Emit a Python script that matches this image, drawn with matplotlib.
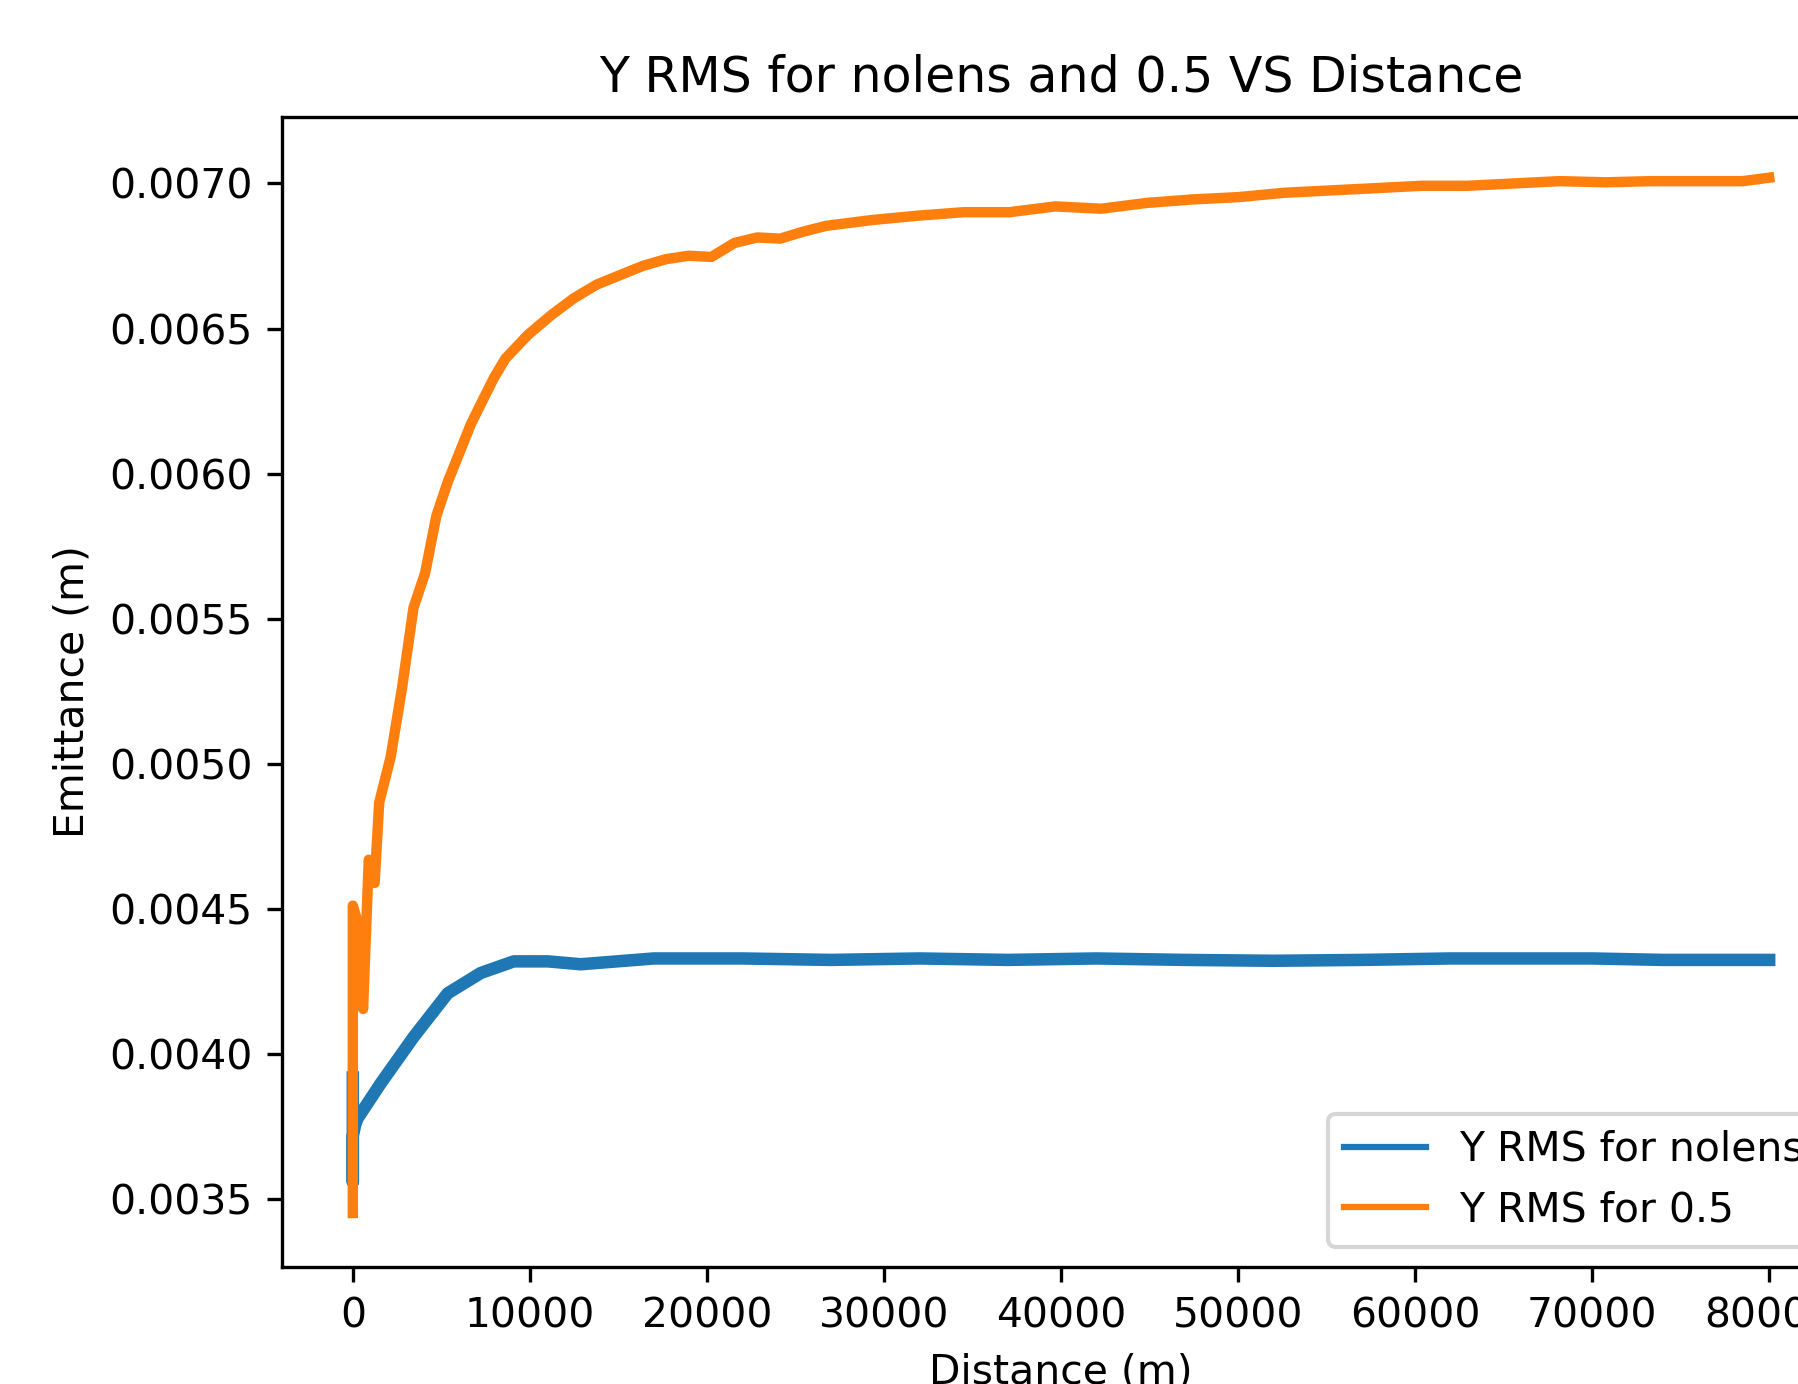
import matplotlib
matplotlib.use("Agg")
import matplotlib.pyplot as plt

# afstand (m) en emittance (m)
dist_nolens = [0, 0, 0, 150, 280, 1580, 3440, 5360, 7230, 9090, 11010, 12870,
               17000, 22000, 27000, 32000, 37000, 42000, 47000, 52000, 57000,
               62000, 66000, 70000, 74000, 78000, 80000]
rms_nolens = [0.00392, 0.00356, 0.00372, 0.00376, 0.00378, 0.00390, 0.00406,
              0.00421, 0.00428, 0.00432, 0.00432, 0.00431,
              0.00433, 0.00433, 0.004325, 0.00433, 0.004325, 0.00433, 0.004325,
              0.004322, 0.004325, 0.00433, 0.00433, 0.00433, 0.004325,
              0.004325, 0.004325]

dist_05 = [0, 0, 190, 580, 900, 1230, 1490, 2140, 2780, 3430, 4080, 4720,
           5370, 6020, 6670, 7310, 7960, 8610, 9900, 11200, 12490, 13790,
           15080, 16380, 17670, 18960, 20260, 21550, 22850, 24140, 25440,
           26730, 29320, 31910, 34500, 37090, 39680, 42270, 44850, 47440,
           50030, 52620, 55210, 57800, 60390, 62980, 65570, 68160, 70740,
           73330, 75920, 78510, 80000]
rms_05 = [0.003453, 0.004512, 0.004472, 0.004156, 0.00467, 0.00459, 0.004867,
          0.005025, 0.005262, 0.005539, 0.005657, 0.005855, 0.005973,
          0.006072, 0.006171, 0.00625, 0.006329, 0.006396, 0.006479,
          0.006546, 0.006605, 0.006652, 0.006684, 0.006716, 0.006739,
          0.006751, 0.006747, 0.006795, 0.006814, 0.00681, 0.006834,
          0.006854, 0.006874, 0.006889, 0.006901, 0.006901, 0.006921,
          0.006913, 0.006933, 0.006945, 0.006953, 0.006968, 0.006976,
          0.006984, 0.006992, 0.006992, 0.0070, 0.007008, 0.007004,
          0.007008, 0.007008, 0.007008, 0.00702]

plt.rcParams['font.size'] = 9.8

dpi = 300
fig = plt.figure(figsize=(1798 / dpi, 1384 / dpi), dpi=dpi)
ax = fig.add_axes([282 / 1798, 117 / 1384, (1840 - 282) / 1798, 1150 / 1384])

ax.plot(dist_nolens, rms_nolens, linewidth=3.0, label='Y RMS for nolens')
ax.plot(dist_05, rms_05, linewidth=2.5, label='Y RMS for 0.5')
ax.set_xlim(-4000, 84000)
ax.set_ylim(0.003267, 0.007229)
ax.set_xlabel('Distance (m)')
ax.set_ylabel('Emittance (m)')
ax.set_title('Y RMS for nolens and 0.5 VS Distance')
leg = ax.legend(loc='lower right')
for line in leg.get_lines():
    line.set_linewidth(1.5)

fig.savefig("out.png", dpi=dpi)
